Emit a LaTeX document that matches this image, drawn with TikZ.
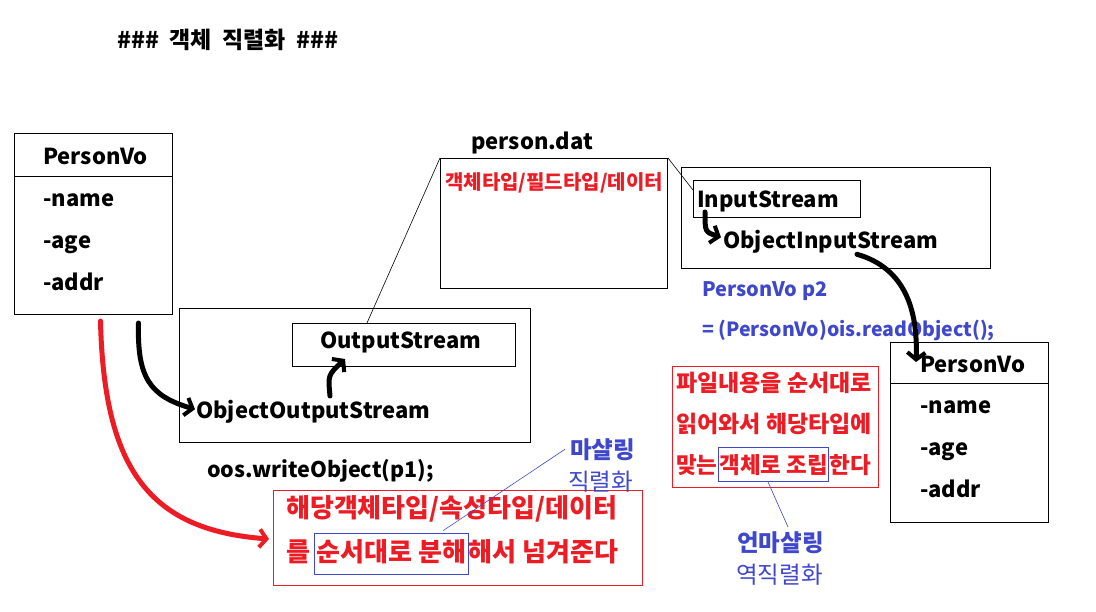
\documentclass[tikz,border=0pt]{standalone}
\usepackage{fontspec}
\setmainfont{Noto Sans CJK KR}
\newfontfamily\titlefont{Noto Sans CJK KR}[WordSpace=2]
\usetikzlibrary{arrows.meta,calc}
\definecolor{pred}{RGB}{237,28,36}
\definecolor{pblue}{RGB}{63,72,204}
\tikzset{
  box/.style={draw=black, line width=1pt, inner sep=0pt, anchor=north west},
  rbox/.style={draw=pred, line width=1pt, inner sep=0pt, anchor=north west},
  txt/.style={font=\fontsize{22}{26}\selectfont\bfseries, inner sep=0pt, anchor=base west},
  redtxt/.style={txt, text=pred},
  bluetxt/.style={txt, text=pblue},
  hl/.style={draw=pblue, line width=1pt, inner ysep=0pt},
  thick arrow/.style={line width=5pt, line cap=round, -{Straight Barb[length=7pt,width=18pt,line width=4pt]}},
  thin/.style={line width=0.6pt},
}
\begin{document}
\begin{tikzpicture}[x=1pt,y=-1pt]
\useasboundingbox[fill=white] (0,0) rectangle (1096,611);
% title
\node[txt, font=\fontsize{23}{28}\titlefont\bfseries] (title) at (117,48) {\#\#\# 객체 직렬화 \#\#\#};

% left PersonVo
\node[box, minimum width=158pt, minimum height=181pt] (pv1) at (14,133) {};
\draw[line width=1pt] (pv1.west |- 0,176) -- (pv1.east |- 0,176);
\node[txt] (pv1t) at (43,164) {PersonVo};
\node[txt] (pv1a) at (43,206) {-name};
\node[txt] (pv1b) at (43,248) {-age};
\node[txt] (pv1c) at (43,290) {-addr};

% output stream box
\node[box, minimum width=351pt, minimum height=134pt] (oos) at (179,308) {};
\node[box, minimum width=223pt, minimum height=43pt] (os) at (292,323) {};
\node[txt] (ost) at (320,348) {OutputStream};
\node[txt] (oost) at (196,418) {ObjectOutputStream};
\node[txt, font=\fontsize{21.5}{26}\selectfont\bfseries] (wo) at (207,477) {oos.writeObject(p1);};

% file
\node[txt] (pdat) at (471,149) {person.dat};
\node[box, minimum width=227pt, minimum height=130pt] (file) at (440,158) {};
\node[redtxt, font=\fontsize{20}{24}\selectfont\bfseries] (filet) at (445,189) {객체타입/필드타입/데이터};

% input stream
\node[box, minimum width=309pt, minimum height=101pt] (ois) at (681,167) {};
\node[box, minimum width=167pt, minimum height=37pt] (is) at (693,180) {};
\node[txt] (ist) at (697,207) {InputStream};
\node[txt] (oist) at (723,248) {ObjectInputStream};
\node[bluetxt, font=\fontsize{20}{24}\selectfont\bfseries] (p2a) at (702,296) {PersonVo p2};
\node[bluetxt, font=\fontsize{19.5}{24}\selectfont\bfseries] (p2b) at (702,336) {= (PersonVo)ois.readObject();};

% right PersonVo
\node[box, minimum width=158pt, minimum height=180pt] (pv2) at (890,342) {};
\draw[line width=1pt] (pv2.west |- 0,383) -- (pv2.east |- 0,383);
\node[txt] (pv2t) at (920,372) {PersonVo};
\node[txt] (pv2a) at (920,413) {-name};
\node[txt] (pv2b) at (920,455) {-age};
\node[txt] (pv2c) at (920,497) {-addr};

% red box right
\node[rbox, minimum width=206pt, minimum height=121pt] (rr) at (672,366) {};
\node[redtxt, font=\fontsize{23}{26}\selectfont\bfseries] (rr1) at (676,391) {파일내용을 순서대로};
\node[redtxt, font=\fontsize{23}{26}\selectfont\bfseries] (rr2) at (676,432) {읽어와서 해당타입에};
\node[redtxt, font=\fontsize{22.5}{26}\selectfont\bfseries] (rr3a) at (676,473) {맞는};
\node[redtxt, hl, font=\fontsize{22.5}{26}\selectfont\bfseries, text height=26pt, text depth=8pt, inner xsep=1pt] (rb) at (rr3a.base east) {객체로 조립};
\node[redtxt, font=\fontsize{22.5}{26}\selectfont\bfseries] (rr3c) at (rb.base east) {한다};
\node[bluetxt, font=\fontsize{23.5}{26}\selectfont\bfseries] (um) at (737,551) {언마샬링};
\node[bluetxt, font=\fontsize{23.5}{26}\selectfont] (dz) at (736,583) {역직렬화};

% red box bottom
\node[rbox, minimum width=369pt, minimum height=95pt] (rl) at (273,490) {};
\node[redtxt, font=\fontsize{26}{28}\selectfont\bfseries] (rl1) at (286,517) {해당객체타입/속성타입/데이터};
\node[redtxt, font=\fontsize{26}{28}\selectfont\bfseries] (rl2a) at (286,561) {를};
\node[redtxt, hl, font=\fontsize{26}{28}\selectfont\bfseries, text height=28pt, text depth=13pt, inner xsep=2pt] (lb) at ($(rl2a.base east)+(4,0)$) {순서대로 분해};
\node[redtxt, font=\fontsize{26}{28}\selectfont\bfseries] (rl2c) at (lb.base east) {해서 넘겨준다};
\node[bluetxt, font=\fontsize{23.5}{26}\selectfont\bfseries] (ms) at (570,458) {마샬링};
\node[bluetxt, font=\fontsize{23.5}{26}\selectfont] (sz) at (568,490) {직렬화};

% thin connectors
\draw[thin] ($(os.north west)+(75,0)$) -- (file.north west);
\draw[thin] (file.north east) -- ($(is.north west)+(0,10)$);
\draw[thin, pblue] ($(lb.north west)+(129,-2)$) -- ($(ms.west)+(-5,0)$);
\draw[thin, pblue] ($(rb.south west)+(50,0)$) -- ($(um.north west)+(51,-4)$);

% thick arrows
\draw[thick arrow] ($(pv1.south)+(45,8)$) .. controls (137,378) and (150,396) .. ($(oost.west)+(-1,-2)$);
\draw[thick arrow] (330,396) .. controls (328,375) .. ($(os.south west)+(53,-8)$);
\draw[thick arrow] ($(is.south west)+(12,-6)$) .. controls (705,232) .. ($(oist.west)+(-2,-4)$);
\draw[thick arrow] ($(oist.west)+(134,13)$) .. controls (905,268) and (918,310) .. ($(pv2.north west)+(26,20)$);
\draw[thick arrow, pred] ($(pv1.south)+(7,6)$) .. controls (104,470) and (150,530) .. ($(rl.west)+(-4,1)$);
\end{tikzpicture}
\end{document}
